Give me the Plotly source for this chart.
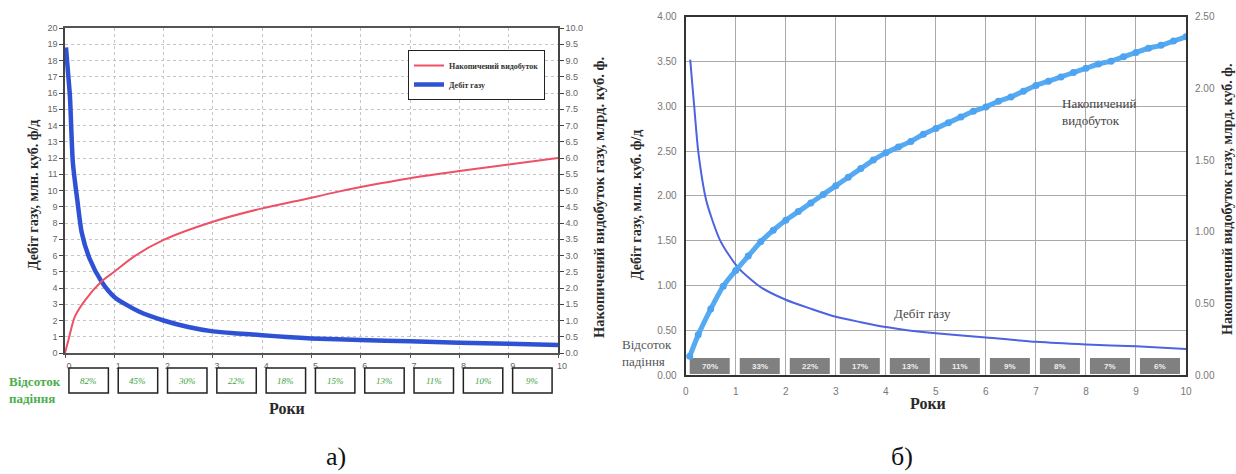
import plotly.graph_objects as go

W, H = 1236, 474

# ---------- chart а): single well, decline and cumulative ----------
years_a_rate = [0.02, 0.06, 0.10, 0.16, 0.25, 0.34, 0.50, 0.74, 1.0, 1.5, 2.0, 2.5,
                3.0, 3.5, 4.0, 4.5, 5.0, 6.0, 7.0, 8.0, 9.0, 10.0]
rate_a = [18.8, 17.3, 15.8, 11.7, 9.4, 7.4, 5.8, 4.4, 3.45, 2.55, 2.0, 1.6,
          1.33, 1.2, 1.1, 0.98, 0.9, 0.8, 0.72, 0.63, 0.57, 0.5]

years_a_cum = [0.0, 0.07, 0.20, 0.41, 0.74, 1.0, 1.39, 2.0, 3.0, 4.0, 4.77, 5.5,
               6.4, 7.0, 8.0, 9.0, 10.0]
cum_a = [0.0, 0.4, 1.12, 1.63, 2.2, 2.5, 2.96, 3.48, 4.04, 4.45, 4.7, 4.95,
         5.22, 5.38, 5.6, 5.8, 6.0]

decline_a = ["82%", "45%", "30%", "22%", "18%", "15%", "13%", "11%", "10%", "9%"]

# ---------- chart б): type curve ----------
years_b_rate = [0.09, 0.17, 0.25, 0.41, 0.55, 0.69, 0.85, 1.06, 1.5, 2.0, 2.5, 3.0,
                3.5, 4.0, 4.5, 5.0, 6.0, 7.0, 8.0, 9.0, 10.0]
rate_b = [3.52, 3.0, 2.5, 1.95, 1.70, 1.5, 1.35, 1.19, 0.98, 0.84, 0.74, 0.65,
          0.59, 0.535, 0.495, 0.465, 0.42, 0.37, 0.34, 0.32, 0.29]

years_b_cum = [0.08, 0.25, 0.5, 0.75, 1.0, 1.25, 1.5, 1.75, 2.0, 2.25, 2.5, 2.75,
               3.0, 3.25, 3.5, 3.75, 4.0, 4.25, 4.5, 4.75, 5.0, 5.25, 5.5, 5.75,
               6.0, 6.25, 6.5, 6.75, 7.0, 7.25, 7.5, 7.75, 8.0, 8.25, 8.5, 8.75,
               9.0, 9.25, 9.5, 9.75, 10.0]
cum_b = [0.13, 0.28, 0.46, 0.62, 0.73, 0.83, 0.93, 1.01, 1.08, 1.14, 1.20, 1.26,
         1.32, 1.38, 1.44, 1.50, 1.55, 1.59, 1.63, 1.68, 1.72, 1.76, 1.80, 1.84,
         1.87, 1.91, 1.94, 1.98, 2.02, 2.05, 2.08, 2.11, 2.14, 2.17, 2.19, 2.22,
         2.25, 2.28, 2.30, 2.33, 2.36]

decline_b = ["70%", "33%", "22%", "17%", "13%", "11%", "9%", "8%", "7%", "6%"]

SERIF = "Liberation Serif"
SANS = "Liberation Sans"


def px_x(p):
    return p / W


def px_y(p):
    return 1 - p / H


def label(x, y, text, font, xanchor="center", angle=0, **kw):
    """Paper-positioned text given in pixel coordinates."""
    return dict(xref="paper", yref="paper", x=px_x(x), y=px_y(y), text=text,
                showarrow=False, xanchor=xanchor, yanchor="middle",
                textangle=angle, font=font, **kw)


fig = go.Figure()

fig.add_trace(go.Scatter(
    x=years_a_cum, y=cum_a, xaxis="x", yaxis="y2", mode="lines",
    line=dict(color="#ee5065", width=2, shape="spline", smoothing=0.8),
    name="<b>Накопичений видобуток</b>"))
fig.add_trace(go.Scatter(
    x=years_a_rate, y=rate_a, xaxis="x", yaxis="y", mode="lines",
    line=dict(color="#2f52d4", width=4.5, shape="spline", smoothing=0.7),
    name="<b>Дебіт газу</b>"))

fig.add_trace(go.Scatter(
    x=years_b_rate, y=rate_b, xaxis="x2", yaxis="y3", mode="lines",
    line=dict(color="#4d63e0", width=2, shape="spline", smoothing=0.7),
    showlegend=False))
fig.add_trace(go.Scatter(
    x=years_b_cum, y=cum_b, xaxis="x2", yaxis="y4", mode="lines+markers",
    line=dict(color="#55aaf2", width=5, shape="spline", smoothing=0.6),
    marker=dict(color="#4ea4f0", size=7, symbol="circle"),
    showlegend=False))

tick_a = dict(family=SANS, size=9, color="#666666")
tick_b = dict(family=SANS, size=10, color="#777777")

fig.update_layout(
    width=W, height=H,
    margin=dict(l=0, r=0, t=0, b=0, autoexpand=False),
    paper_bgcolor="white", plot_bgcolor="white",
    showlegend=True,
    legend=dict(x=px_x(408), y=px_y(50), xanchor="left", yanchor="top",
                bgcolor="white", bordercolor="#222222", borderwidth=1,
                font=dict(family=SERIF, size=8, color="#333333"),
                itemwidth=30, tracegroupgap=0),
    xaxis=dict(domain=[px_x(65), px_x(558)], anchor="y", range=[0, 10],
               dtick=1, showgrid=True, gridcolor="#c4c4c4", griddash="dot",
               showline=True, linecolor="#555555", linewidth=1.5, mirror=True,
               ticks="outside", ticklen=3, tickcolor="#555555",
               tickfont=tick_a, ticklabelshift=4, zeroline=False,
               automargin=False),
    yaxis=dict(domain=[px_y(353), px_y(28)], anchor="x", range=[0, 20],
               dtick=1, showgrid=True, gridcolor="#c4c4c4", griddash="dot",
               showline=True, linecolor="#444444", linewidth=1.5,
               ticks="outside", ticklen=4, tickcolor="#444444",
               tickfont=tick_a, zeroline=False, automargin=False),
    yaxis2=dict(overlaying="y", anchor="x", side="right", range=[0, 10],
                dtick=0.5, tickformat=".1f", showgrid=False,
                showline=True, linecolor="#444444", linewidth=1.5,
                ticks="outside", ticklen=4, tickcolor="#444444",
                tickfont=tick_a, zeroline=False, automargin=False),
    xaxis2=dict(domain=[px_x(685.7), px_x(1186)], anchor="y3", range=[0, 10],
                dtick=1, showgrid=True, gridcolor="#aaaaaa", gridwidth=1,
                showline=True, linecolor="#333333", linewidth=2, mirror=True,
                ticks="outside", ticklen=6, tickcolor="white",
                tickfont=tick_b, zeroline=False, automargin=False),
    yaxis3=dict(domain=[px_y(375), px_y(16.7)], anchor="x2", range=[0, 4],
                dtick=0.5, tickformat=".2f", showgrid=True,
                gridcolor="#aaaaaa", gridwidth=1,
                showline=True, linecolor="#333333", linewidth=2,
                ticks="outside", ticklen=5, tickcolor="white",
                tickfont=tick_b, zeroline=False, automargin=False),
    yaxis4=dict(overlaying="y3", anchor="x2", side="right", range=[0, 2.5],
                dtick=0.5, tickformat=".2f", showgrid=False,
                showline=True, linecolor="#333333", linewidth=2,
                ticks="outside", ticklen=5, tickcolor="white",
                tickfont=tick_b, zeroline=False, automargin=False),
)

shapes = []
annotations = []

# decline-percentage boxes under chart а)
for i, pct in enumerate(decline_a):
    shapes.append(dict(type="rect", xref="x", yref="paper",
                       x0=i + 0.08, x1=i + 0.88, y0=px_y(393), y1=px_y(368),
                       line=dict(color="#222222", width=1.5),
                       fillcolor="white", layer="above"))
    annotations.append(dict(xref="x", yref="paper", x=i + 0.48, y=px_y(380.5),
                            xanchor="center", yanchor="middle",
                            text=f"<i>{pct}</i>", showarrow=False,
                            font=dict(family=SERIF, size=9, color="#3aa33a")))

# decline-percentage tags inside chart б)
for i, pct in enumerate(decline_b):
    shapes.append(dict(type="rect", xref="x2", yref="y3",
                       x0=i + 0.08, x1=i + 0.88, y0=0.01, y1=0.19,
                       line=dict(width=0), fillcolor="#808080",
                       layer="between"))
    annotations.append(dict(xref="x2", yref="y3", x=i + 0.48, y=0.10,
                            xanchor="center", yanchor="middle",
                            text=f"<b>{pct}</b>", showarrow=False,
                            font=dict(family=SANS, size=8, color="#eeeeee")))

dark = "#2a2a2a"
annotations += [
    label(33, 195, "<b>Дебіт газу, млн. куб. ф/д</b>",
          dict(family=SERIF, size=14, color=dark), angle=-90),
    label(599, 198, "<b>Накопичений видобуток газу, млрд. куб. ф.</b>",
          dict(family=SERIF, size=14.5, color=dark), angle=-90),
    label(287, 408, "<b>Роки</b>", dict(family=SERIF, size=16, color=dark)),
    label(7, 390, "<b>Відсоток<br>падіння</b>",
          dict(family=SERIF, size=13, color="#4cae4c"),
          xanchor="left", align="left"),
    label(637, 205, "<b>Дебіт газу, млн. куб. ф/д</b>",
          dict(family=SERIF, size=14, color=dark), angle=-90),
    label(1228, 200, "<b>Накопичений видобуток газу, млрд. куб. ф.</b>",
          dict(family=SERIF, size=14, color=dark), angle=-90),
    label(928, 403, "<b>Роки</b>", dict(family=SERIF, size=16, color=dark)),
    label(620, 353, "Відсоток<br>падіння",
          dict(family=SERIF, size=13, color="#555555"),
          xanchor="left", align="left"),
    label(1060, 112, "Накопичений<br>видобуток",
          dict(family=SERIF, size=13, color="#444444"),
          xanchor="left", align="left"),
    label(892, 313, "Дебіт газу", dict(family=SERIF, size=13, color="#444444"),
          xanchor="left"),
    label(336, 456, "а)", dict(family=SERIF, size=26, color="#111111")),
    label(902, 456, "б)", dict(family=SERIF, size=26, color="#111111")),
]

fig.update_layout(shapes=shapes, annotations=annotations)

fig.write_html("out.html")
